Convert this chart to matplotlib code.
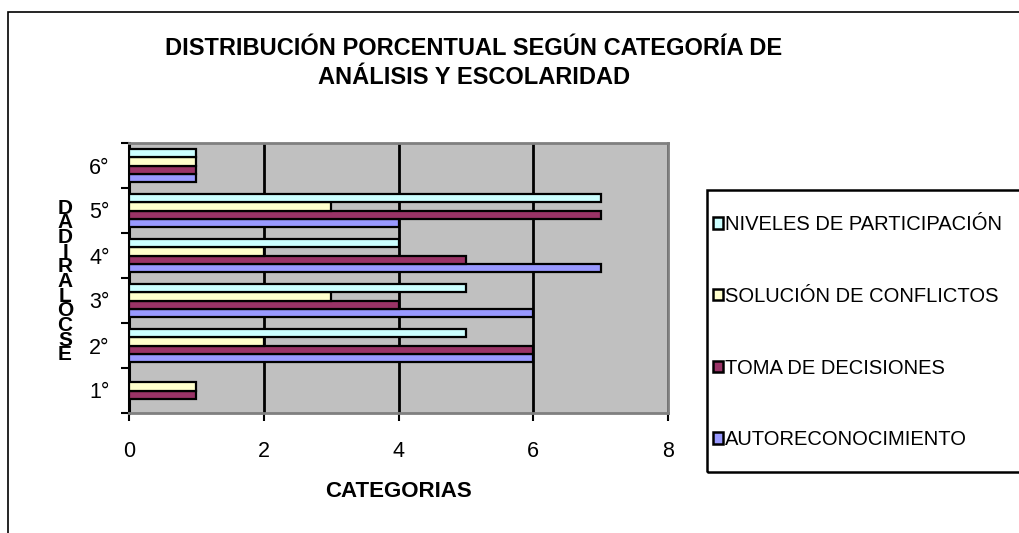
import matplotlib
matplotlib.use("Agg")
import matplotlib.pyplot as plt
from matplotlib.patches import Rectangle, Patch
import numpy as np

plt.rcParams['font.family'] = ['Liberation Sans', 'DejaVu Sans']

grades = ["1°", "2°", "3°", "4°", "5°", "6°"]
series_names = ["AUTORECONOCIMIENTO", "TOMA DE DECISIONES",
                "SOLUCIÓN DE CONFLICTOS", "NIVELES DE PARTICIPACIÓN"]
autoreconocimiento = [0, 6, 6, 7, 4, 1]
toma_decisiones = [1, 6, 4, 5, 7, 1]
solucion_conflictos = [1, 2, 3, 2, 3, 1]
niveles_participacion = [0, 5, 5, 4, 7, 1]
colors = ["#9999FF", "#993366", "#FFFFCC", "#CCFFFF"]
x_ticks = [0, 2, 4, 6, 8]

title = "DISTRIBUCIÓN PORCENTUAL SEGÚN CATEGORÍA DE\nANÁLISIS Y ESCOLARIDAD"
xlabel = "CATEGORIAS"
ylabel = "ESCOLARIDAD"

W, H = 1019, 533
fig = plt.figure(figsize=(W / 100, H / 100), dpi=100)

def fx(px):
    return px / W

def fy(py):
    return 1 - py / H

# outer chart border
fig.patches.append(Rectangle((fx(8), fy(H + 20)), 1.2, fy(12) - fy(H + 20),
                             transform=fig.transFigure, fill=False,
                             edgecolor="black", lw=1.2, zorder=0))

ax = fig.add_axes([fx(129), fy(413), fx(668) - fx(129), fy(143) - fy(413)])
ax.set_facecolor("#C0C0C0")

data = [autoreconocimiento, toma_decisiones, solucion_conflictos, niveles_participacion]
y = np.arange(1, len(grades) + 1)
bh = 0.178
offsets = (np.arange(4) - 1.5) * bh
handles = []
for vals, off, c, name in zip(data, offsets, colors, series_names):
    ax.barh(y + off, vals, height=bh, color=c, edgecolor="black", linewidth=1.6,
            zorder=3)
    handles.append(Patch(facecolor=c, edgecolor="black", linewidth=1.8, label=name))

ax.set_xlim(0, 8)
ax.set_ylim(0.5, len(grades) + 0.5)
ax.set_xticks(x_ticks)
ax.set_xticklabels([str(t) for t in x_ticks], fontsize=15.5)
ax.set_yticks(np.arange(0.5, len(grades) + 1, 1))
ax.set_yticklabels([])
ax.set_yticks(y, minor=True)
ax.set_yticklabels(grades, minor=True, fontsize=15.5)
ax.tick_params(axis="y", which="minor", length=0, pad=14)
ax.tick_params(axis="y", which="major", length=6, width=1.5, direction="out")
ax.tick_params(axis="x", length=6, width=1.5, direction="out", pad=14)
ax.grid(axis="x", color="black", lw=2, zorder=1)
ax.set_axisbelow(True)
for s in ["top", "right", "bottom"]:
    ax.spines[s].set_color("#808080")
    ax.spines[s].set_linewidth(2)
ax.spines["left"].set_color("black")
ax.spines["left"].set_linewidth(2.2)

ax.set_xlabel(xlabel, fontsize=16, fontweight="bold", labelpad=14)

# stacked vertical y label
letters = list(ylabel)[::-1]
y_top, y_bot = 208, 355
for i, ch in enumerate(letters):
    yy = y_top + (y_bot - y_top) * i / (len(letters) - 1)
    fig.text(fx(65), fy(yy), ch, fontsize=15, fontweight="bold",
             ha="center", va="center")

fig.text(fx(474), fy(63), title, fontsize=17, fontweight="bold",
         ha="center", va="center", linespacing=1.34)

# legend box
fig.patches.append(Rectangle((fx(707), fy(472)), 0.5, fy(190) - fy(472),
                             transform=fig.transFigure, fill=False,
                             edgecolor="black", lw=1.8, zorder=1))
leg = fig.legend(handles=handles[::-1], loc="upper left",
                 bbox_to_anchor=(fx(713), fy(215)), frameon=False,
                 fontsize=14.5, labelspacing=2.62, handlelength=0.5,
                 handleheight=0.5, handletextpad=0.1, borderaxespad=0,
                 borderpad=0)

fig.savefig("out.png", dpi=100)
